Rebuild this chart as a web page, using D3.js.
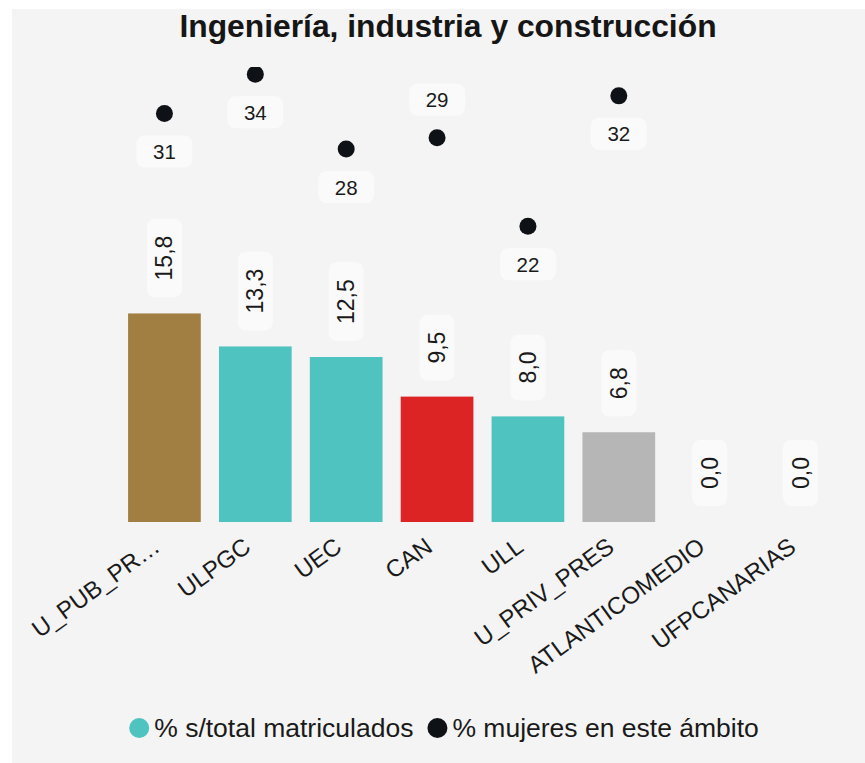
<!DOCTYPE html>
<html>
<head>
<meta charset="utf-8">
<script src="https://cdn.jsdelivr.net/npm/d3@7"></script>
<style>
  body { margin: 0; background: #fff; font-family: "Liberation Sans", Arial, sans-serif; }
</style>
</head>
<body>
<div id="chart"></div>
<script>
var title = "Ingeniería, industria y construcción";
var categories = ["U_PUB_PR…", "ULPGC", "UEC", "CAN", "ULL", "U_PRIV_PRES", "ATLANTICOMEDIO", "UFPCANARIAS"];
var pctMatriculados = [15.8, 13.3, 12.5, 9.5, 8.0, 6.8, 0.0, 0.0];
var pctMujeres = [30.9, 34.0, 28.1, 29.0, 22.0, 32.3, null, null];
var barColors = ["#a17f43", "#4fc3bf", "#4fc3bf", "#dd2424", "#4fc3bf", "#b6b6b6", "#4fc3bf", "#4fc3bf"];
var legendNames = ["% s/total matriculados", "% mujeres en este ámbito"];
var legendColors = ["#4fc3bf", "#0e1116"];
var labelAbove = ["CAN"];

var w = 865;
var h = 763;

var svg = d3.select('#chart')
            .append('svg')
            .attr('width', w)
            .attr('height', h);

svg.append('rect')
   .attr('x', 12)
   .attr('y', 9)
   .attr('width', w - 12)
   .attr('height', h - 9)
   .attr('fill', '#f4f4f4');

svg.append('text')
   .attr('x', 448)
   .attr('y', 37)
   .attr('text-anchor', 'middle')
   .style('font-size', '31.8px')
   .style('font-weight', 'bold')
   .attr('fill', '#161616')
   .text(title);

var x = d3.scaleBand()
          .domain(categories)
          .range([119, 846])
          .paddingInner(0.2)
          .paddingOuter(0.1);

var y = d3.scaleLinear().domain([0, 30]).range([522, 126]);
var y2 = d3.scaleLinear().domain([0, 30]).range([505, 125]);

var fmt1 = v => d3.format('.1f')(v).replace('.', ',');
var fmt0 = d3.format('.0f');

svg.append('defs')
   .append('clipPath')
   .attr('id', 'plot')
   .append('rect')
   .attr('x', 12)
   .attr('y', 67)
   .attr('width', w - 12)
   .attr('height', 600);

var rows = categories.map((c, i) => ({cat: c, v: pctMatriculados[i], m: pctMujeres[i], col: barColors[i]}));

var plot = svg.append('g').attr('clip-path', 'url(#plot)');

// bars
plot.selectAll('rect.bar')
    .data(rows)
    .enter()
    .append('rect')
    .attr('class', 'bar')
    .attr('x', d => x(d.cat))
    .attr('y', d => y(d.v))
    .attr('width', x.bandwidth())
    .attr('height', d => y(0) - y(d.v))
    .attr('fill', d => d.col);

// bar value labels (rotated, in rounded boxes)
var bl = plot.selectAll('g.blabel')
             .data(rows)
             .enter()
             .append('g')
             .attr('class', 'blabel')
             .attr('transform', d => 'translate(' + (x(d.cat) + x.bandwidth() / 2) + ',' + (y(d.v) - 16) + ') rotate(-90)');

bl.append('rect');
bl.append('text')
  .attr('x', 17)
  .attr('y', 0)
  .attr('dominant-baseline', 'central')
  .style('font-size', '23px')
  .attr('fill', '#1a1a1a')
  .text(d => fmt1(d.v));

bl.each(function() {
  var g = d3.select(this);
  var len = g.select('text').node().getComputedTextLength();
  g.select('rect')
   .attr('x', 0)
   .attr('y', -17.5)
   .attr('width', len + 34)
   .attr('height', 35)
   .attr('rx', 8)
   .attr('fill', '#fafafa');
});

// dots
var dotRows = rows.filter(d => d.m != null);

plot.selectAll('circle.dot')
    .data(dotRows)
    .enter()
    .append('circle')
    .attr('class', 'dot')
    .attr('cx', d => x(d.cat) + x.bandwidth() / 2)
    .attr('cy', d => y2(d.m))
    .attr('r', 8.5)
    .attr('fill', '#0e1116');

var dl = plot.selectAll('g.dlabel')
             .data(dotRows)
             .enter()
             .append('g')
             .attr('class', 'dlabel')
             .attr('transform', d => {
               var off = labelAbove.indexOf(d.cat) >= 0 ? -38 : 38;
               return 'translate(' + (x(d.cat) + x.bandwidth() / 2) + ',' + (y2(d.m) + off) + ')';
             });

dl.append('rect');
dl.append('text')
  .attr('text-anchor', 'middle')
  .attr('dominant-baseline', 'central')
  .style('font-size', '20.5px')
  .attr('fill', '#1a1a1a')
  .text(d => fmt0(d.m));

dl.each(function() {
  var g = d3.select(this);
  var len = g.select('text').node().getComputedTextLength();
  g.select('rect')
   .attr('x', -(len + 33) / 2)
   .attr('y', -16)
   .attr('width', len + 33)
   .attr('height', 32)
   .attr('rx', 8)
   .attr('fill', '#fafafa');
});

// x axis
var xAxis = svg.append('g')
               .attr('transform', 'translate(0,' + y(0) + ')')
               .call(d3.axisBottom(x).tickSize(0));

xAxis.select('.domain').remove();
xAxis.selectAll('text')
     .attr('y', 0)
     .attr('dy', 0)
     .attr('text-anchor', 'end')
     .attr('transform', 'translate(-3,28) rotate(-36)')
     .style('font-size', '24px')
     .style('font-family', '"Liberation Sans", Arial, sans-serif')
     .attr('fill', '#1a1a1a');

// legend
var legend = svg.append('g').attr('transform', 'translate(0,728)');
var lx = 0;
legendNames.forEach(function(name, i) {
  var item = legend.append('g').attr('transform', 'translate(' + lx + ',0)');
  item.append('circle')
      .attr('cx', 10)
      .attr('cy', 0)
      .attr('r', 10)
      .attr('fill', legendColors[i]);
  var t = item.append('text')
      .attr('x', 25)
      .attr('y', 0)
      .attr('dominant-baseline', 'central')
      .style('font-size', '26.5px')
      .attr('fill', '#1a1a1a')
      .text(name);
  lx += 25 + t.node().getComputedTextLength() + 14;
});
var legendW = lx - 14;
legend.attr('transform', 'translate(' + (444 - legendW / 2) + ',728)');
</script>
</body>
</html>
